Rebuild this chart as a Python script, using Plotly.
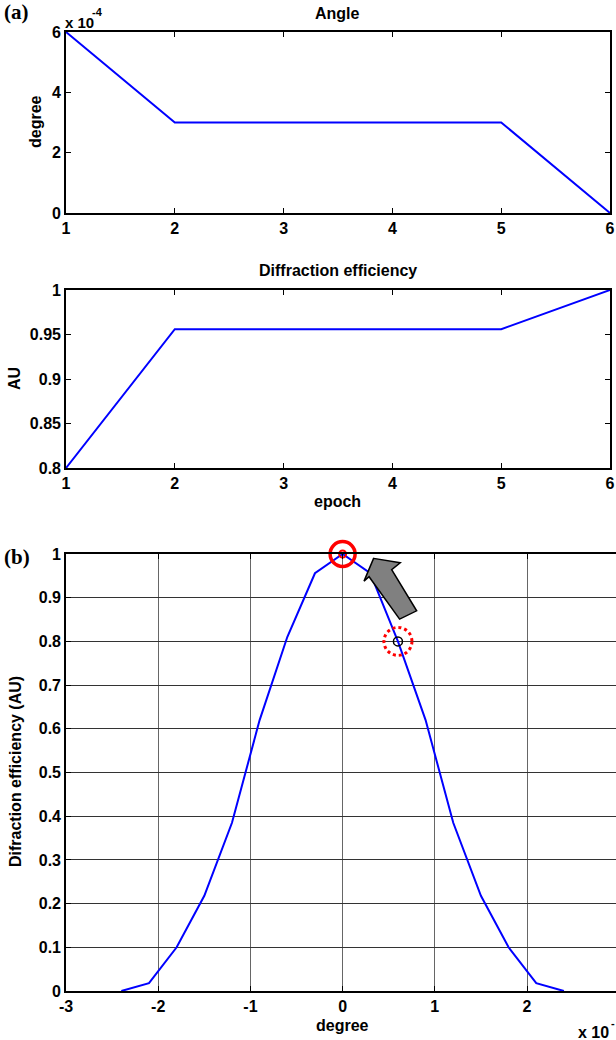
import plotly.graph_objects as go

# ---------------- data ----------------
epoch = [1, 2, 3, 4, 5, 6]
angle_e4 = [6, 3, 3, 3, 3, 0]                 # degree, x 10^-4
eff_epoch = [0.8, 0.956, 0.956, 0.956, 0.956, 1.0]

deg_e3 = [-2.4, -2.1, -1.8, -1.5, -1.2, -0.9, -0.6, -0.3, 0.0,
          0.3, 0.6, 0.9, 1.2, 1.5, 1.8, 2.1, 2.4]  # degree, x 10^-3
eff_deg = [0.0, 0.018, 0.1, 0.218, 0.385, 0.62, 0.81, 0.956, 1.0,
           0.956, 0.80, 0.62, 0.385, 0.218, 0.1, 0.018, 0.0]

ang_ticks = [0, 2, 4, 6]
eff_ticks = [0.8, 0.85, 0.9, 0.95, 1.0]
eff_ticktext = ["0.8", "0.85", "0.9", "0.95", "1"]
b_xticks = [-3, -2, -1, 0, 1, 2]
b_xticktext = ["-3", "-2", "-1", "0", "1", "2"]
b_yticks = [0, 0.1, 0.2, 0.3, 0.4, 0.5, 0.6, 0.7, 0.8, 0.9, 1.0]
b_yticktext = ["0", "0.1", "0.2", "0.3", "0.4", "0.5", "0.6", "0.7", "0.8", "0.9", "1"]

peak_idx = 8      # highlighted optimum
start_idx = 10    # starting point (epoch 1)

# ---------------- layout helpers ----------------
W, H = 616, 1040
def px(x):
    return x / W
def py(y):
    return 1 - y / H

FONT = "Liberation Sans"
tickfont = dict(family=FONT, size=16, color="black", weight="bold")
BLUE = "#0000ff"

def axis(**kw):
    d = dict(showline=True, linecolor="black", linewidth=1.6, mirror="ticks",
             ticks="inside", ticklen=5, tickwidth=1, tickcolor="black",
             showgrid=False, zeroline=False, tickfont=tickfont, automargin=False)
    d.update(kw)
    return d

fig = go.Figure()
line = dict(color=BLUE, width=2)
fig.add_trace(go.Scatter(x=epoch, y=angle_e4, mode="lines", line=line,
                         xaxis="x", yaxis="y", showlegend=False))
fig.add_trace(go.Scatter(x=epoch, y=eff_epoch, mode="lines", line=line,
                         xaxis="x2", yaxis="y2", showlegend=False))
fig.add_trace(go.Scatter(x=deg_e3, y=eff_deg, mode="lines", line=line,
                         xaxis="x3", yaxis="y3", showlegend=False))
# highlighted peak (big red circle + small red circle)
fig.add_trace(go.Scatter(x=[deg_e3[peak_idx]], y=[eff_deg[peak_idx]], mode="markers",
                         marker=dict(symbol="circle-open", size=25, color="red",
                                     line=dict(width=3.5, color="red")),
                         cliponaxis=False, xaxis="x3", yaxis="y3", showlegend=False))
fig.add_trace(go.Scatter(x=[deg_e3[peak_idx]], y=[eff_deg[peak_idx]], mode="markers",
                         marker=dict(symbol="circle-open", size=7, color="red",
                                     line=dict(width=2, color="red")),
                         cliponaxis=False, xaxis="x3", yaxis="y3", showlegend=False))
# start point black circle
fig.add_trace(go.Scatter(x=[deg_e3[start_idx]], y=[eff_deg[start_idx]], mode="markers",
                         marker=dict(symbol="circle-open", size=9, color="black",
                                     line=dict(width=1.5, color="black")),
                         cliponaxis=False, xaxis="x3", yaxis="y3", showlegend=False))

xdom = [px(66), px(610)]
fig.update_layout(
    width=W, height=H, margin=dict(l=0, r=0, t=0, b=0, pad=0, autoexpand=False),
    paper_bgcolor="white", plot_bgcolor="white",
    xaxis=axis(domain=xdom, anchor="y", range=[1, 6], tickvals=epoch),
    yaxis=axis(domain=[py(213), py(32)], anchor="x", range=[0, 6], tickvals=ang_ticks),
    xaxis2=axis(domain=xdom, anchor="y2", range=[1, 6], tickvals=epoch),
    yaxis2=axis(domain=[py(468), py(290)], anchor="x2", range=[0.8, 1.0],
                tickvals=eff_ticks, ticktext=eff_ticktext),
    xaxis3=axis(domain=[px(66), 1.0], anchor="y3", range=[-3, 2.965],
                tickvals=b_xticks, ticktext=b_xticktext,
                showgrid=True, gridcolor="#666666", gridwidth=1.2),
    yaxis3=axis(domain=[py(991), py(554)], anchor="x3", range=[0, 1.0],
                tickvals=b_yticks, ticktext=b_yticktext, mirror=False,
                showgrid=True, gridcolor="#333333", gridwidth=1),
)

# dotted red circle around start point
fig.add_shape(type="circle", xref="x3", yref="y3", xsizemode="pixel", ysizemode="pixel",
              xanchor=deg_e3[start_idx], yanchor=eff_deg[start_idx],
              x0=-14, x1=14, y0=-14, y1=14,
              line=dict(color="red", width=3, dash="dot"))

# gray block arrow (start -> optimum)
arrow_pts = [(0.336, 0.990), (0.625, 0.980), (0.532, 0.964), (0.803, 0.870),
             (0.618, 0.851), (0.287, 0.948), (0.232, 0.938)]
path = "M " + " L ".join(f"{x},{y}" for x, y in arrow_pts) + " Z"
fig.add_shape(type="path", xref="x3", yref="y3", path=path,
              fillcolor="#808080", line=dict(color="black", width=1.5))

def text(t, x, y, size=16, xanchor="center", yanchor="middle", angle=0, family=FONT):
    fig.add_annotation(text=t, x=px(x), y=py(y), xref="paper", yref="paper",
                       xanchor=xanchor, yanchor=yanchor, textangle=angle, showarrow=False,
                       borderpad=0,
                       font=dict(family=family, size=size, color="black", weight="bold"))

text("(a)", 3, 12, size=21, xanchor="left", family="Liberation Serif")
text("(b)", 3, 557, size=21, xanchor="left", family="Liberation Serif")
text("Angle", 337, 14)
text("x 10", 64, 22, size=15, xanchor="left")
text("-4", 91, 12, size=11, xanchor="left")
text("degree", 35, 122, angle=-90)
text("Diffraction efficiency", 338, 271)
text("AU", 14, 379, angle=-90)
text("epoch", 337, 501)
text("Difraction efficiency (AU)", 15, 772, angle=-90)
text("degree", 343, 1025)
text("x 10", 577, 1032, xanchor="left")
text("-", 610, 1023, size=11, xanchor="left")

fig.write_html("out.html", config={"displayModeBar": False},
               post_script="document.body.style.margin='0';")
